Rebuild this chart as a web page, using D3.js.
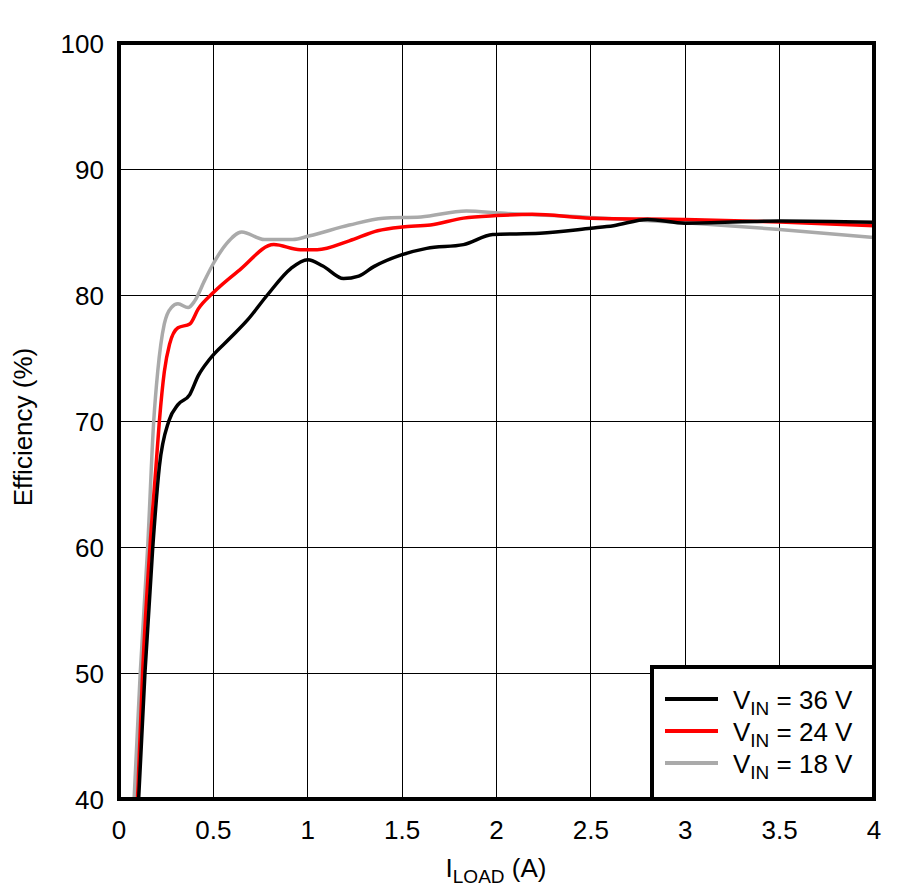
<!DOCTYPE html>
<html><head><meta charset="utf-8">
<script src="https://cdn.jsdelivr.net/npm/d3@7"></script>
<style>
html,body{margin:0;padding:0;background:#fff;}
text{font-family:"Liberation Sans",Arial,sans-serif;fill:#000;}
</style></head>
<body>
<svg id="chart" width="905" height="891"></svg>
<script>
const xTicks = [0, 0.5, 1, 1.5, 2, 2.5, 3, 3.5, 4];
const xTickLabels = ["0", "0.5", "1", "1.5", "2", "2.5", "3", "3.5", "4"];
const yTicks = [40, 50, 60, 70, 80, 90, 100];
const yTickLabels = ["40", "50", "60", "70", "80", "90", "100"];

const seriesNames = ["36 V", "24 V", "18 V"];
const seriesColors = ["#000000", "#ff0000", "#aaaaaa"];

const vin36 = [[0.104,40],[0.1375,50],[0.179,60],[0.214,66.4],[0.264,70],[0.3125,71.3],[0.375,72.1],[0.42,73.6],[0.48,74.9],[0.59,76.6],[0.68,78],[0.786,80],[0.91,82.1],[1.0,82.8],[1.08,82.3],[1.19,81.3],[1.27,81.5],[1.35,82.25],[1.5,83.2],[1.63,83.7],[1.825,84.0],[1.98,84.8],[2.23,84.9],[2.5,85.3],[2.62,85.5],[2.8,86.0],[3.0,85.7],[3.5,85.87],[4.0,85.77]];
const vin24 = [[0.098,40],[0.125,50],[0.164,60],[0.196,66.4],[0.214,70],[0.24,73.9],[0.268,76.1],[0.3125,77.4],[0.375,77.7],[0.42,78.9],[0.5,80.2],[0.64,82.0],[0.82,84.0],[0.96,83.6],[1.05,83.6],[1.22,84.3],[1.37,85.1],[1.5,85.4],[1.65,85.55],[1.825,86.1],[2.0,86.3],[2.19,86.4],[2.5,86.1],[3.0,86.0],[3.5,85.8],[4.0,85.5]];
const vin18 = [[0.08,40],[0.1125,50],[0.152,60],[0.184,70],[0.205,73.9],[0.24,77.7],[0.277,79.0],[0.3125,79.3],[0.366,79.0],[0.40,79.5],[0.455,81.2],[0.5,82.5],[0.571,84.1],[0.65,85.0],[0.77,84.4],[0.92,84.4],[1.01,84.7],[1.22,85.55],[1.4,86.1],[1.6,86.2],[1.84,86.67],[2.02,86.5],[2.5,86.16],[3.0,85.74],[3.5,85.2],[4.0,84.56]];
const seriesData = [vin36, vin24, vin18];

const svg = d3.select("#chart");
const L = 119, R = 874, T = 43, B = 799;
const x = d3.scaleLinear().domain([0, 4]).range([L, R]);
const y = d3.scaleLinear().domain([40, 100]).range([B, T]);

// gridlines
const grid = svg.append("g");
grid.selectAll("line.v").data(xTicks).enter().append("line")
  .attr("x1", d => x(d)).attr("x2", d => x(d)).attr("y1", T).attr("y2", B)
  .attr("stroke", "#000").attr("stroke-width", 1).attr("shape-rendering", "crispEdges");
grid.selectAll("line.h").data(yTicks).enter().append("line")
  .attr("x1", L).attr("x2", R).attr("y1", d => y(d)).attr("y2", d => y(d))
  .attr("stroke", "#000").attr("stroke-width", 1).attr("shape-rendering", "crispEdges");

// clip
svg.append("clipPath").attr("id", "clip").append("rect")
  .attr("x", L).attr("y", T).attr("width", R - L).attr("height", B - T);

const line = d3.line().x(d => x(d[0])).y(d => y(d[1])).curve(d3.curveMonotoneX);
svg.append("g").attr("clip-path", "url(#clip)")
  .selectAll("path").data(seriesData.map((d, i) => ({d, i})).reverse()).enter().append("path")
  .attr("d", o => line(o.d)).attr("fill", "none")
  .attr("stroke", o => seriesColors[o.i]).attr("stroke-width", 3.5)
  .attr("stroke-linejoin", "round");

// axes labels
svg.append("g").selectAll("text").data(yTicks).enter().append("text")
  .attr("x", 104).attr("y", d => y(d) + 10).attr("text-anchor", "end")
  .attr("font-size", 26).text((d, i) => yTickLabels[i]);
svg.append("g").selectAll("text").data(xTicks).enter().append("text")
  .attr("x", d => x(d)).attr("y", 839).attr("text-anchor", "middle")
  .attr("font-size", 26).text((d, i) => xTickLabels[i]);

// axis titles
svg.append("text").attr("transform", "translate(32,427) rotate(-90)")
  .attr("text-anchor", "middle").attr("font-size", 26).text("Efficiency (%)");
const xt = svg.append("text").attr("x", 496).attr("y", 877).attr("text-anchor", "middle").attr("font-size", 26);
xt.append("tspan").text("I");
xt.append("tspan").attr("font-size", 19).attr("dy", 6).text("LOAD");
xt.append("tspan").attr("dy", -6).text(" (A)");

// legend
const lg = svg.append("g");
lg.append("rect").attr("x", 652).attr("y", 667).attr("width", R - 652).attr("height", B - 667)
  .attr("fill", "#fff").attr("stroke", "#000").attr("stroke-width", 4);
seriesNames.forEach((n, i) => {
  const yy = 699 + i * 32;
  lg.append("line").attr("x1", 665).attr("x2", 718).attr("y1", yy).attr("y2", yy)
    .attr("stroke", seriesColors[i]).attr("stroke-width", 4);
  const t = lg.append("text").attr("x", 733).attr("y", yy + 10).attr("font-size", 26);
  t.append("tspan").text("V");
  t.append("tspan").attr("font-size", 19).attr("dy", 6).text("IN");
  t.append("tspan").attr("dy", -6).text(" = " + n);
});

// frame
svg.append("rect").attr("x", L).attr("y", T).attr("width", R - L).attr("height", B - T)
  .attr("fill", "none").attr("stroke", "#000").attr("stroke-width", 4);
</script>
</body></html>
